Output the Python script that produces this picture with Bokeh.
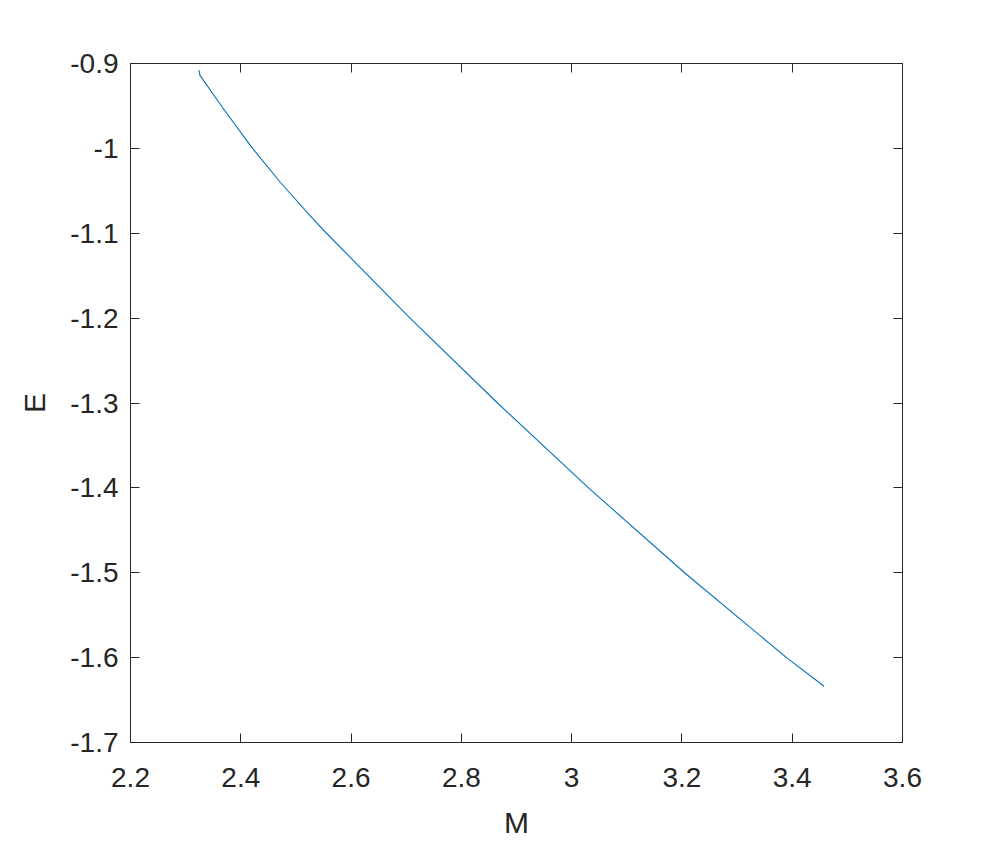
from bokeh.plotting import figure
from bokeh.models import Range1d, LinearAxis, FixedTicker
from bokeh.embed import file_html
from bokeh.resources import INLINE

# Curve data
M = [2.3240, 2.3262, 2.3248, 2.3668, 2.4213, 2.4720, 2.5283, 2.5555, 2.7069,
     2.8656, 3.0306, 3.2047, 3.3897, 3.4578]
E = [-0.9078, -0.9140, -0.9128, -0.9518, -1.0000, -1.0402, -1.0814, -1.1000,
     -1.2000, -1.3000, -1.4000, -1.5000, -1.6000, -1.6337]

x_ticks = [2.2, 2.4, 2.6, 2.8, 3.0, 3.2, 3.4, 3.6]
x_labels = ["2.2", "2.4", "2.6", "2.8", "3", "3.2", "3.4", "3.6"]
y_ticks = [-1.7, -1.6, -1.5, -1.4, -1.3, -1.2, -1.1, -1.0, -0.9]
y_labels = ["-1.7", "-1.6", "-1.5", "-1.4", "-1.3", "-1.2", "-1.1", "-1", "-0.9"]

FONT = "Liberation Sans"
TXT = "#262626"

p = figure(width=990, height=845, output_backend="svg", toolbar_location=None,
           x_range=Range1d(2.2, 3.6), y_range=Range1d(-1.7, -0.9),
           x_axis_label="M", y_axis_label="E",
           min_border_left=130, min_border_top=63, min_border_right=88,
           min_border_bottom=103)
p.background_fill_color = "white"
p.border_fill_color = "white"
p.xgrid.visible = False
p.ygrid.visible = False
p.outline_line_color = TXT

p.line(M, E, line_color="#0072BD", line_width=1.1)

def style(ax, ticks, labels, show_labels=True):
    ax.ticker = FixedTicker(ticks=ticks)
    ax.major_label_overrides = {t: l for t, l in zip(ticks, labels)}
    ax.major_tick_in = 9
    ax.major_tick_out = 0
    ax.minor_tick_in = 0
    ax.minor_tick_out = 0
    ax.axis_line_color = TXT
    ax.major_tick_line_color = TXT
    ax.major_label_text_font = FONT
    ax.major_label_text_color = TXT
    ax.major_label_text_font_size = "28px" if show_labels else "0px"
    ax.axis_label_text_font = FONT
    ax.axis_label_text_color = TXT
    ax.axis_label_text_font_size = "30px"
    ax.axis_label_text_font_style = "normal"

style(p.xaxis[0], x_ticks, x_labels)
style(p.yaxis[0], y_ticks, y_labels)
p.xaxis[0].major_label_standoff = 25
p.xaxis[0].axis_label_standoff = 16
p.yaxis[0].major_label_standoff = 12
p.yaxis[0].axis_label_standoff = 16

top = LinearAxis()
right = LinearAxis()
style(top, x_ticks, x_labels, show_labels=False)
style(right, y_ticks, y_labels, show_labels=False)
p.add_layout(top, "above")
p.add_layout(right, "right")

open("out.html", "w").write(file_html(p, INLINE))
